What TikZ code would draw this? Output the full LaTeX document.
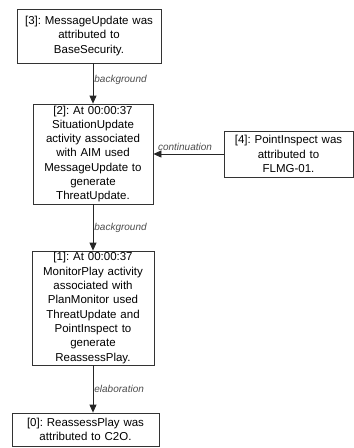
\documentclass[tikz,border=0pt]{standalone}
\usepackage{fontspec}
\setmainfont{Liberation Sans}
\usetikzlibrary{arrows.meta}
\frenchspacing
\begin{document}
\begin{tikzpicture}[x=1pt,y=-1pt,
  box/.style={draw=black!80, line width=0.8pt, align=center, inner sep=0pt,
    font=\fontsize{11.5}{14.3}\selectfont, anchor=center},
  conn/.style={draw=black!85, line width=0.8pt, -{Triangle[length=8pt,width=7pt]}},
  lbl/.style={font=\itshape\fontsize{10}{12}\selectfont, text=black!70, inner sep=1pt}]
\useasboundingbox (0,0) rectangle (354,448);
\node[box, minimum width=144pt, minimum height=54pt, text width=136pt] (n3) at (89,36)
  {[3]: MessageUpdate was\\attributed to\\BaseSecurity.};
\node[box, minimum width=120pt, minimum height=100pt, text width=116pt] (n2) at (93,154)
  {[2]: At 00:00:37\\SituationUpdate\\activity associated\\with AIM used\\MessageUpdate to\\generate\\ThreatUpdate.};
\node[box, minimum width=129pt, minimum height=46pt, text width=125pt] (n4) at (288.5,154)
  {[4]: PointInspect was\\attributed to\\FLMG-01.};
\node[box, minimum width=122pt, minimum height=114pt, text width=118pt] (n1) at (93,308)
  {[1]: At 00:00:37\\MonitorPlay activity\\associated with\\PlanMonitor used\\ThreatUpdate and\\PointInspect to\\generate\\ReassessPlay.};
\node[box, minimum width=147pt, minimum height=33pt, text width=143pt] (n0) at (85.5,429.5)
  {[0]: ReassessPlay was\\attributed to C2O.};
\draw[conn] (n2.north |- n3.south) -- node[lbl, right, pos=0.4] {background} (n2.north);
\draw[conn] (n4.west) -- node[lbl, above=2pt, pos=0.55] {continuation} (n2.east);
\draw[conn] (n2.south) -- node[lbl, right, pos=0.5] {background} (n1.north);
\draw[conn] (n1.south) -- node[lbl, right, pos=0.5] {elaboration} (n1.south |- n0.north);
\end{tikzpicture}
\end{document}
